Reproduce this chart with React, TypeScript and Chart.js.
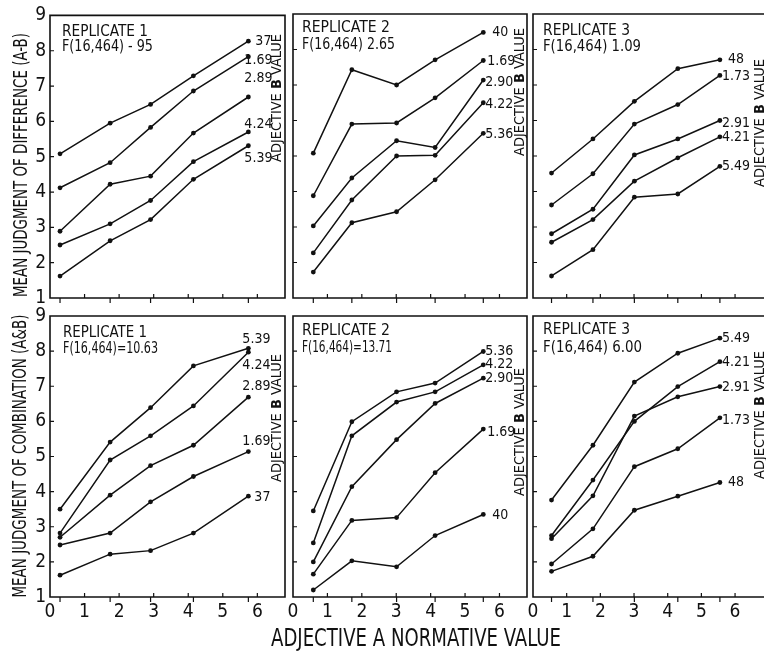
import React, { useEffect, useRef } from "react";
import { Chart, registerables } from "chart.js";

Chart.register(...registerables);

const W = 766;
const H = 654;
const YW = 30;
const XH = 30;
const FONT = '"Liberation Sans Narrow", "DejaVu Sans Condensed", "Liberation Sans", "DejaVu Sans", sans-serif';

// ---- tick values ----
const xTickValues = [0, 1, 2, 3, 4, 5, 6];
const yTickValues = [1, 2, 3, 4, 5, 6, 7, 8, 9];

// ---- Adjective A normative values (x) per replicate ----
const adjA1 = [0.29, 1.74, 2.91, 4.15, 5.74];
const adjA2 = [0.59, 1.71, 3.01, 4.13, 5.53];
const adjA3 = [0.55, 1.78, 3.01, 4.3, 5.55];

// ---- Mean judgment of difference (A-B) ----
const diffRep1Labels = ["37", "1.69", "2.89", "4.24", "5.39"];
const diffRep1_037 = [5.08, 5.95, 6.48, 7.29, 8.27];
const diffRep1_169 = [4.12, 4.83, 5.83, 6.86, 7.83];
const diffRep1_289 = [2.89, 4.22, 4.45, 5.67, 6.69];
const diffRep1_424 = [2.5, 3.1, 3.76, 4.86, 5.7];
const diffRep1_539 = [1.62, 2.62, 3.22, 4.36, 5.31];

const diffRep2Labels = ["40", "1.69", "2.90", "4.22", "5.36"];
const diffRep2_040 = [5.08, 7.43, 7.0, 7.71, 8.48];
const diffRep2_169 = [3.88, 5.9, 5.93, 6.64, 7.69];
const diffRep2_290 = [3.03, 4.38, 5.43, 5.24, 7.14];
const diffRep2_422 = [2.27, 3.76, 5.0, 5.02, 6.5];
const diffRep2_536 = [1.73, 3.12, 3.43, 4.33, 5.64];

const diffRep3Labels = ["48", "1.73", "2.91", "4.21", "5.49"];
const diffRep3_048 = [4.52, 5.48, 6.54, 7.46, 7.71];
const diffRep3_173 = [3.62, 4.5, 5.9, 6.45, 7.27];
const diffRep3_291 = [2.81, 3.5, 5.03, 5.48, 6.0];
const diffRep3_421 = [2.57, 3.21, 4.29, 4.95, 5.54];
const diffRep3_549 = [1.62, 2.36, 3.84, 3.93, 4.71];

// ---- Mean judgment of combination (A&B) ----
const combRep1Labels = ["5.39", "4.24", "2.89", "1.69", "37"];
const combRep1_539 = [3.5, 5.41, 6.39, 7.58, 8.08];
const combRep1_424 = [2.82, 4.9, 5.59, 6.44, 7.97];
const combRep1_289 = [2.7, 3.9, 4.74, 5.32, 6.69];
const combRep1_169 = [2.48, 2.82, 3.71, 4.43, 5.14];
const combRep1_037 = [1.62, 2.22, 2.32, 2.82, 3.87];

const combRep2Labels = ["5.36", "4.22", "2.90", "1.69", "40"];
const combRep2_536 = [3.45, 5.99, 6.84, 7.09, 7.99];
const combRep2_422 = [2.54, 5.59, 6.55, 6.84, 7.61];
const combRep2_290 = [2.0, 4.14, 5.48, 6.51, 7.23];
const combRep2_169 = [1.65, 3.18, 3.26, 4.54, 5.78];
const combRep2_040 = [1.2, 2.03, 1.86, 2.75, 3.35];

const combRep3Labels = ["5.49", "4.21", "2.91", "1.73", "48"];
const combRep3_549 = [3.76, 5.32, 7.12, 7.94, 8.37];
const combRep3_421 = [2.75, 4.33, 6.0, 6.99, 7.7];
const combRep3_291 = [2.66, 3.88, 6.15, 6.7, 6.99];
const combRep3_173 = [1.94, 2.94, 4.71, 5.22, 6.1];
const combRep3_048 = [1.73, 2.16, 3.47, 3.87, 4.26];

// ---- text ----
const yTitleTop = "MEAN JUDGMENT OF DIFFERENCE (A-B)";
const yTitleBottom = "MEAN JUDGMENT OF COMBINATION (A&B)";
const xTitle = "ADJECTIVE A NORMATIVE VALUE";

type Seg = { text: string; bold?: boolean };

function drawSegs(
  ctx: CanvasRenderingContext2D,
  segs: Seg[],
  size: number,
  x: number,
  y: number,
  targetW: number | null,
  align: "left" | "center",
  rot = 0,
  italic = false
) {
  ctx.save();
  ctx.translate(x, y);
  if (rot) ctx.rotate(rot);
  const fontFor = (b?: boolean) => `${italic ? "italic " : ""}${b ? "bold " : ""}${size}px ${FONT}`;
  let total = 0;
  const widths = segs.map((s) => {
    ctx.font = fontFor(s.bold);
    const w = ctx.measureText(s.text).width;
    total += w;
    return w;
  });
  const sc = targetW ? targetW / total : 1;
  ctx.scale(sc, 1);
  let cx = align === "center" ? -total / 2 : 0;
  ctx.textBaseline = "middle";
  ctx.textAlign = "left";
  ctx.fillStyle = "#111";
  segs.forEach((s, i) => {
    ctx.font = fontFor(s.bold);
    ctx.fillText(s.text, cx, 0);
    cx += widths[i];
  });
  ctx.restore();
}

type PanelCfg = {
  area: { l: number; r: number; t: number; b: number };
  xs: number[];
  series: number[][];
  labels: string[];
  offsets: [number, number][];
  title: string[];
  titleX: number;
  titleY: number[];
  titleW: number[];
  showX: boolean;
  showY: boolean;
  bLabel: [number, number];
  frameRight: boolean;
  globalTitles?: boolean;
};

const panels: PanelCfg[] = [
  {
    area: { l: 50, r: 285, t: 14, b: 298 },
    xs: adjA1,
    series: [diffRep1_037, diffRep1_169, diffRep1_289, diffRep1_424, diffRep1_539],
    labels: diffRep1Labels,
    offsets: [[7, 0], [-4, 4], [-4, -19], [-4, -8], [-4, 13]],
    title: ["REPLICATE 1", "F(16,464) - 95"],
    titleX: 62,
    titleY: [31.5, 46.5],
    titleW: [86, 91],
    showX: false,
    showY: true,
    bLabel: [277.5, 98],
    frameRight: true,
    globalTitles: true,
  },
  {
    area: { l: 293, r: 527, t: 14, b: 298 },
    xs: adjA2,
    series: [diffRep2_040, diffRep2_169, diffRep2_290, diffRep2_422, diffRep2_536],
    labels: diffRep2Labels,
    offsets: [[9, 0], [4, 1], [2, 2], [2, 2], [2, 1]],
    title: ["REPLICATE 2", "F(16,464) 2.65"],
    titleX: 302,
    titleY: [27.5, 45],
    titleW: [88, 93],
    showX: false,
    showY: false,
    bLabel: [520, 92],
    frameRight: true,
  },
  {
    area: { l: 533, r: 766, t: 14, b: 298 },
    xs: adjA3,
    series: [diffRep3_048, diffRep3_173, diffRep3_291, diffRep3_421, diffRep3_549],
    labels: diffRep3Labels,
    offsets: [[8, 0], [2, 1], [2, 3], [2, 1], [2, 0]],
    title: ["REPLICATE 3", "F(16,464) 1.09"],
    titleX: 543,
    titleY: [31, 47],
    titleW: [87, 98],
    showX: false,
    showY: false,
    bLabel: [760, 123],
    frameRight: false,
  },
  {
    area: { l: 50, r: 285, t: 316, b: 597 },
    xs: adjA1,
    series: [combRep1_539, combRep1_424, combRep1_289, combRep1_169, combRep1_037],
    labels: combRep1Labels,
    offsets: [[-6, -9], [-6, 13], [-6, -11], [-6, -10], [6, 1]],
    title: ["REPLICATE 1", "F(16,464)=10.63"],
    titleX: 63,
    titleY: [332.5, 349],
    titleW: [84, 95],
    showX: true,
    showY: true,
    bLabel: [277.5, 418],
    frameRight: true,
  },
  {
    area: { l: 293, r: 527, t: 316, b: 597 },
    xs: adjA2,
    series: [combRep2_536, combRep2_422, combRep2_290, combRep2_169, combRep2_040],
    labels: combRep2Labels,
    offsets: [[2, 0], [2, 0], [2, 0], [4, 3], [9, 1]],
    title: ["REPLICATE 2", "F(16,464)=13.71"],
    titleX: 302,
    titleY: [331, 347.5],
    titleW: [88, 90],
    showX: true,
    showY: false,
    bLabel: [520, 432],
    frameRight: true,
  },
  {
    area: { l: 533, r: 766, t: 316, b: 597 },
    xs: adjA3,
    series: [combRep3_549, combRep3_421, combRep3_291, combRep3_173, combRep3_048],
    labels: combRep3Labels,
    offsets: [[2, 0], [2, 1], [2, 1], [2, 2], [8, 0]],
    title: ["REPLICATE 3", "F(16,464) 6.00"],
    titleX: 543,
    titleY: [330, 347.5],
    titleW: [87, 99],
    showX: true,
    showY: false,
    bLabel: [760, 415],
    frameRight: false,
  },
];

function makeDecor(cfg: PanelCfg) {
  return {
    id: "panelDecor",
    afterDraw(chart: any) {
      const ctx: CanvasRenderingContext2D = chart.ctx;
      const { left, right, top, bottom } = chart.chartArea;
      const xs = chart.scales.x;
      const ys = chart.scales.y;
      ctx.save();
      ctx.strokeStyle = "#111";
      ctx.lineWidth = 1.6;
      ctx.beginPath();
      if (cfg.frameRight) {
        ctx.rect(left, top, right - left, bottom - top);
      } else {
        ctx.moveTo(right + 2, top);
        ctx.lineTo(left, top);
        ctx.lineTo(left, bottom);
        ctx.lineTo(right + 2, bottom);
      }
      ctx.stroke();
      ctx.lineWidth = 1.2;
      ctx.beginPath();
      xTickValues.forEach((v) => {
        if (v === 0) return;
        const px = xs.getPixelForValue(v);
        ctx.moveTo(px, bottom);
        ctx.lineTo(px, bottom - 4);
      });
      cfg.xs.forEach((v) => {
        const px = xs.getPixelForValue(v);
        ctx.moveTo(px, bottom);
        ctx.lineTo(px, bottom + 5);
      });
      yTickValues.forEach((v) => {
        if (v === 1 || v === 9) return;
        const py = ys.getPixelForValue(v);
        ctx.moveTo(left, py);
        ctx.lineTo(left + 4, py);
      });
      ctx.stroke();
      ctx.restore();

      // annotation
      cfg.title.forEach((t, i) => {
        drawSegs(ctx, [{ text: t }], 16, cfg.titleX, cfg.titleY[i], cfg.titleW[i], "left");
      });

      // adjective B value (vertical)
      drawSegs(
        ctx,
        [{ text: "ADJECTIVE " }, { text: "B", bold: true }, { text: " VALUE" }],
        14,
        cfg.bLabel[0],
        cfg.bLabel[1],
        128,
        "center",
        -Math.PI / 2
      );

      // end labels
      cfg.series.forEach((s, i) => {
        const last = s.length - 1;
        const px = xs.getPixelForValue(cfg.xs[last]);
        const py = ys.getPixelForValue(s[last]);
        const [dx, dy] = cfg.offsets[i];
        drawSegs(ctx, [{ text: cfg.labels[i] }], 14, px + dx, py + dy, null, "left");
      });

      if (cfg.globalTitles) {
        drawSegs(ctx, [{ text: yTitleTop }], 19, 22, 165, 264, "center", -Math.PI / 2);
        drawSegs(ctx, [{ text: yTitleBottom }], 19, 21, 456, 283, "center", -Math.PI / 2);
        drawSegs(ctx, [{ text: xTitle }], 24, 416, 640, 290, "center");
      }
    },
  };
}

function Panel({ cfg }: { cfg: PanelCfg }) {
  const ref = useRef<HTMLCanvasElement>(null);
  useEffect(() => {
    const canvas = ref.current!;
    const tickFont = { family: FONT, size: 19 };
    const chart = new Chart(canvas, {
      type: "line",
      data: {
        datasets: cfg.series.map((s, i) => ({
          label: cfg.labels[i],
          data: s.map((v, j) => ({ x: cfg.xs[j], y: v })),
          borderColor: "#111",
          backgroundColor: "#111",
          borderWidth: 1.5,
          pointRadius: 2.4,
          pointBackgroundColor: "#111",
          pointBorderWidth: 0,
          tension: 0,
          fill: false,
        })),
      },
      options: {
        responsive: false,
        animation: false,
        events: [],
        layout: {
          padding: {
            left: cfg.area.l - YW,
            top: cfg.area.t,
            right: W - cfg.area.r,
            bottom: H - cfg.area.b - XH,
          },
        },
        plugins: { legend: { display: false }, tooltip: { enabled: false } },
        scales: {
          x: {
            type: "linear",
            min: 0,
            max: 6.8,
            afterBuildTicks: (s: any) => {
              s.ticks = xTickValues.map((v) => ({ value: v }));
            },
            afterFit: (s: any) => {
              s.height = XH;
            },
            grid: { display: false, drawTicks: false },
            border: { display: false },
            ticks: {
              display: cfg.showX,
              color: "#111",
              font: tickFont,
              padding: 4,
              maxRotation: 0,
              autoSkip: false,
            },
          },
          y: {
            type: "linear",
            min: 1,
            max: 9,
            afterBuildTicks: (s: any) => {
              s.ticks = yTickValues.map((v) => ({ value: v }));
            },
            afterFit: (s: any) => {
              s.width = YW;
            },
            grid: { display: false, drawTicks: false },
            border: { display: false },
            ticks: {
              display: cfg.showY,
              color: "#111",
              font: tickFont,
              padding: 4,
              autoSkip: false,
            },
          },
        },
      },
      plugins: [makeDecor(cfg)],
    } as any);
    return () => chart.destroy();
  }, []);
  return (
    <canvas
      ref={ref}
      width={W}
      height={H}
      style={{ position: "absolute", left: 0, top: 0, width: W, height: H }}
    />
  );
}

export default function App() {
  return (
    <div
      style={{
        position: "fixed",
        left: 0,
        top: 0,
        width: W,
        height: H,
        background: "#fff",
        overflow: "hidden",
      }}
    >
      {panels.map((p, i) => (
        <Panel key={i} cfg={p} />
      ))}
    </div>
  );
}
